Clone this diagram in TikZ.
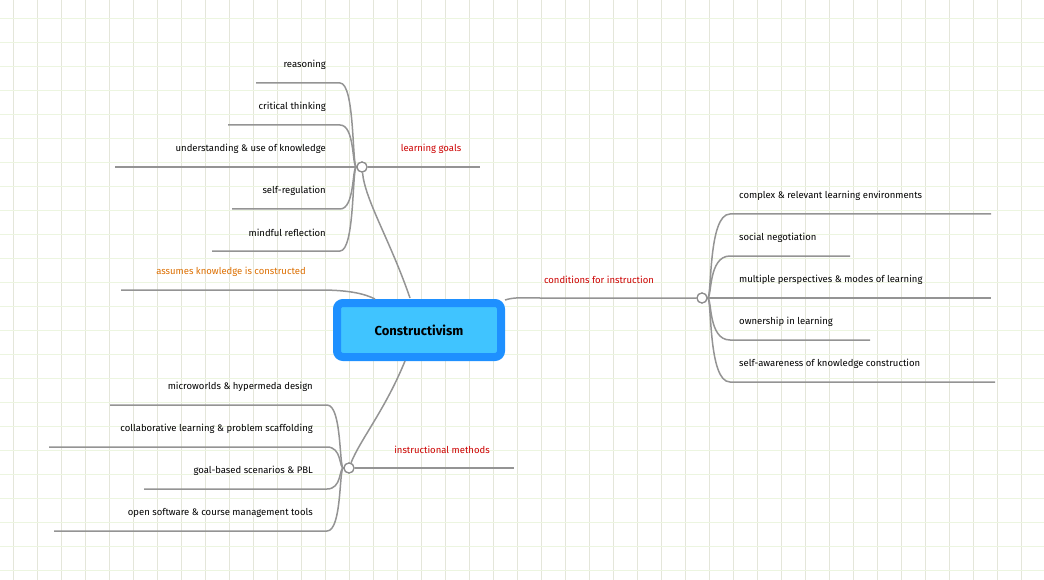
\documentclass[tikz,border=0pt]{standalone}
\usepackage{fontspec}
\setmainfont{Fira Sans}
\begin{document}
\begin{tikzpicture}[x=1pt,y=-1pt,
  lnk/.style={draw=black!42,line width=1.5pt},
  lbl/.style={font=\fontsize{9.5}{11}\selectfont,inner sep=0pt,text=black},
  red/.style={lbl,text=red!80!black},
  hub/.style={circle,draw=black!45,fill=white,line width=1.2pt,minimum size=10pt,inner sep=0pt}]
\useasboundingbox (0,0) rectangle (1044,580);
\foreach \x in {13.5,37.5,...,1044} \draw[color={rgb,255:red,228;green,230;blue,218},line width=0.8pt] (\x,0)--(\x,580);
\foreach \y in {18,42,...,580} \draw[color={rgb,255:red,236;green,245;blue,224},line width=0.8pt] (0,\y)--(1044,\y);
% center
\node[draw={rgb,255:red,30;green,144;blue,255},line width=8pt,fill={rgb,255:red,64;green,196;blue,255},rounded corners=6pt,minimum width=164pt,minimum height=54pt,font=\fontsize{13}{15}\selectfont\bfseries] (c) at (419,330) {Constructivism};
% learning goals
\node[hub] (h1) at (362,167) {};
\coordinate (u1) at (480,167);
\node[red] (t1) at (431,149) {learning goals};
\draw[lnk] (410,298) .. controls (390,240) and (365,200) .. (h1);
\draw[lnk] (h1) -- (u1);
\foreach \n/\t/\y/\xs in {a/reasoning/83/256,b/critical thinking/125/228,c/understanding \& use of knowledge/167/115,d/self-regulation/209/232,e/mindful reflection/251/212}{
  \node[lbl,anchor=east] (l\n) at (326,\y-18) {\t};
  \coordinate (s\n) at (\xs,\y);
  \coordinate (e\n) at (340,\y);
  \draw[lnk] (s\n) -- (e\n) .. controls (355,\y) and (352,167) .. (h1);
}
% assumes
\node[lbl,text={rgb,255:red,220;green,110;blue,0}] (t2) at (231,272) {assumes knowledge is constructed};
\coordinate (s2) at (121,290);
\draw[lnk] (s2) -- (320,290) .. controls (350,290) and (365,294) .. (375,299);
% conditions
\node[hub] (h3) at (702,298) {};
\node[red] (t3) at (599,280) {conditions for instruction};
\draw[lnk] (505,300) .. controls (515,297) and (520,298) .. (540,298) -- (h3);
\foreach \n/\t/\y/\xe in {a/complex \& relevant learning environments/214/991,b/social negotiation/256/850,c/multiple perspectives \& modes of learning/298/991,d/ownership in learning/340/870,e/self-awareness of knowledge construction/382/995}{
  \node[lbl,anchor=west] (r\n) at (739,\y-18) {\t};
  \coordinate (q\n) at (\xe,\y);
  \draw[lnk] (h3) .. controls (712,298) and (708,\y) .. (730,\y) -- (q\n);
}
% instructional methods
\node[hub] (h4) at (349,468) {};
\coordinate (u4) at (514,468);
\node[red] (t4) at (442,450) {instructional methods};
\draw[lnk] (405,361) .. controls (385,410) and (360,440) .. (h4);
\draw[lnk] (h4) -- (u4);
\foreach \n/\t/\y/\xs in {a/microworlds \& hypermeda design/405/110,b/collaborative learning \& problem scaffolding/447/49,c/goal-based scenarios \& PBL/489/144,d/open software \& course management tools/531/54}{
  \node[lbl,anchor=east] (m\n) at (313,\y-18) {\t};
  \coordinate (p\n) at (\xs,\y);
  \draw[lnk] (p\n) -- (327,\y) .. controls (342,\y) and (339,468) .. (h4);
}
\node[hub] at (h1) {};
\node[hub] at (h3) {};
\node[hub] at (h4) {};
\end{tikzpicture}
\end{document}
